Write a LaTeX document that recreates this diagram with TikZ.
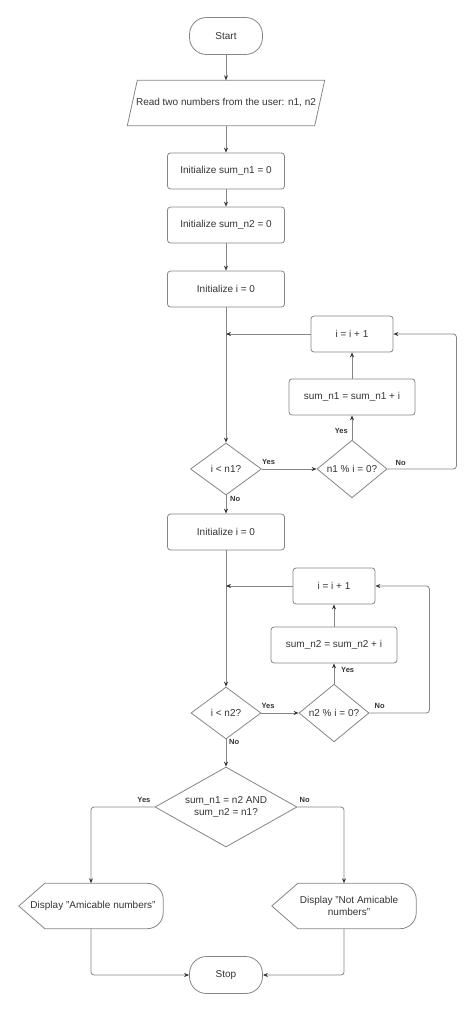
\documentclass[tikz,border=0pt]{standalone}
\usepackage{fontspec}
\setmainfont{Liberation Sans}
\usepackage{xcolor}
\usetikzlibrary{arrows.meta,shapes.geometric,positioning}

\definecolor{edgegray}{HTML}{858585}
\definecolor{textgray}{HTML}{333333}

\tikzset{
  box/.style={rectangle,rounded corners=3pt,draw=edgegray,line width=0.8pt,minimum width=117pt,minimum height=36pt},
  term/.style={rectangle,rounded corners=17pt,draw=edgegray,line width=0.8pt,minimum width=73pt,minimum height=37pt},
  dec/.style={diamond,draw=edgegray,line width=0.8pt,inner sep=0pt,minimum width=71pt,minimum height=52pt},
  iobox/.style={rectangle,inner sep=1pt,minimum width=187pt,minimum height=45pt},
  disp/.style={rectangle,align=center,minimum width=144pt,minimum height=45pt},
  lbl/.style={font=\fontsize{7.5}{9}\selectfont\bfseries,inner sep=0pt},
}

\begin{document}
\begin{tikzpicture}[x=1pt,y=-1pt,every node/.append style={text=textgray,font=\fontsize{10}{12}\selectfont}]
				\useasboundingbox (0,0) rectangle (474,1011);
				\begin{scope}
				    \node[term]  (A) at (226,36) {Start};
				    \node[iobox] (B) at (226,103) {Read two numbers from the user: n1, n2};
				    \node[box]   (C) at (226,171) {Initialize sum\_n1 = 0};
				    \node[box]   (D) at (226,225) {Initialize sum\_n2 = 0};
				    \node[box]   (E) at (226,289) {Initialize i = 0};
				    \node[dec]   (F) at (226,469) {i < n1?};
				    \node[dec,minimum width=70pt] (G) at (352,469) {n1 \% i = 0?};
				    \node[box,minimum width=126pt] (H) at (352,397) {sum\_n1 = sum\_n1 + i};
				    \node[box,minimum width=82pt]  (K) at (352,334) {i = i + 1};
				    \node[box]   (L) at (226,532) {Initialize i = 0};
				    \node[dec,minimum width=70pt] (M) at (226,713) {i < n2?};
				    \node[dec,minimum width=70pt] (N) at (334,713) {n2 \% i = 0?};
				    \node[box,minimum width=126pt] (P) at (334,645) {sum\_n2 = sum\_n2 + i};
				    \node[box,minimum width=82pt]  (Q) at (334,586) {i = i + 1};
				    \node[dec,align=center,aspect=1.775,minimum width=142pt,minimum height=80pt] (T) at (226,807) {sum\_n1 = n2 AND\\sum\_n2 = n1?};
				    \node[disp]  (U) at (91,906) {\hspace*{4pt}Display "Amicable numbers"};
				    \node[disp]  (V) at (344,906) {\hspace*{10pt}Display "Not Amicable\\\hspace*{10pt}numbers"};
				    \node[term]  (W) at (226,975) {Stop};
				\end{scope}

				\draw[edgegray,line width=0.8pt] ([xshift=5pt]B.north west) -- ([xshift=5pt]B.north east)
				    -- ([xshift=-5pt]B.south east) -- ([xshift=-5pt]B.south west) -- cycle;
				\foreach \d in {U,V}
				    \draw[edgegray,line width=0.8pt] ([xshift=26pt]\d.north west) -- (\d.west) -- ([xshift=26pt]\d.south west)
				        -- (\d.south) [rounded corners=16pt] -- (\d.south east) -- (\d.north east) -- (\d.north) [sharp corners] -- cycle;

				\begin{scope}[every node/.style={lbl,text=textgray}]
				    \node[above right=4pt and 0pt of F.east]  (y1) {Yes};
				    \node[above right=3pt and 8pt of G.east]  (n1) {No};
				    \node[above left=6pt and 4pt of G.north]  (y2) {Yes};
				    \node[below right=1pt and 4pt of F.south] (n2) {No};
				    \node[above right=4pt and 0pt of M.east]  (y3) {Yes};
				    \node[above right=4pt and 5pt of N.east]  (n3) {No};
				    \node[above right=11pt and 7pt of N.north] (y4) {Yes};
				    \node[below right=0pt and 3pt of M.south] (n4) {No};
				    \node[above left=4pt and 4pt of T.west]   (y5) {Yes};
				    \node[above right=4pt and 2pt of T.east]  (n5) {No};
				\end{scope}

				\begin{scope}[>={Stealth[textgray,length=5pt,width=4pt]},
				              every edge/.style={draw=edgegray,line width=0.8pt}]
				    \path [->] (A) edge (B);
				    \path [->] (B) edge (C);
				    \path [->] (C) edge (D);
				    \path [->] (D) edge (E);
				    \path [->] (E) edge (F);
				    \path [->] (F) edge (G);
				    \path [->] (G) edge (H);
				    \path [->] (H) edge (K);
				    \path [->] (K.west) edge (K.west -| E.south);
				    \path [->] (F) edge (L);
				    \path [->] (L) edge (M);
				    \path [->] (M) edge (N);
				    \path [->] (N) edge (P);
				    \path [->] (P) edge (Q);
				    \path [->] (Q.west) edge (Q.west -| L.south);
				    \path [->] (M) edge (T);
				\end{scope}

				\begin{scope}[>={Stealth[textgray,length=5pt,width=4pt]},
				              every path/.style={draw=edgegray,line width=0.8pt,rounded corners=3pt}]
				    \draw [->] (G.east) -- ++(69,0) |- (K.east);
				    \draw [->] (N.east) -- ++(60,0) |- (Q.east);
				    \draw [->] (T.west) -| (U.north);
				    \draw [->] (T.east) -| (V.north);
				    \draw [->] (U.south) |- (W.west);
				    \draw [->] (V.south) |- (W.east);
				\end{scope}
				\end{tikzpicture}
\end{document}
